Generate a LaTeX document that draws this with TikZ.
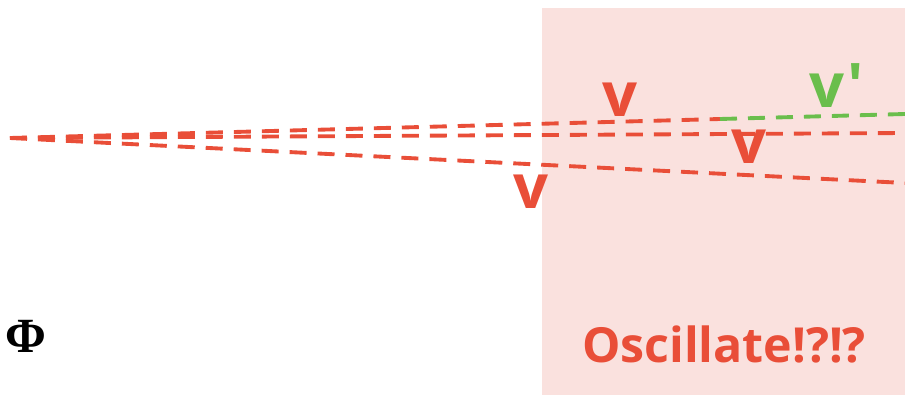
\documentclass[tikz,border=0pt]{standalone}
\usepackage{amsmath, amssymb}
\usepackage{fontspec}
\setsansfont{Open Sans}
\newfontfamily\primefont[Ligatures=TeXOff]{Open Sans}
\newfontfamily\phifont{Liberation Serif}
\usetikzlibrary{positioning}
\definecolor{vred}{RGB}{233,78,56}
\definecolor{vgreen}{RGB}{106,190,76}
\definecolor{zonepink}{RGB}{250,225,222}

\begin{document}
\begin{tikzpicture}[
    x=0.02cm, y=-0.02cm,
    vline/.style={line width=2.2pt, dash pattern=on 0.34cm off 0.22cm},
    vlabel/.style={font=\sffamily\bfseries\fontsize{35}{36}\selectfont, text=vred, inner sep=0pt},
    every node/.style={inner sep=0pt}
]
\useasboundingbox (0,0) rectangle (905,395);
\fill[zonepink] (542,8) rectangle (905,395);
\coordinate (src) at (10,138);
\coordinate (split) at (720,119);
\coordinate (topend) at (905,114);
\coordinate (midend) at (905,133);
\coordinate (lowend) at (905,183);
\draw[vline, vred] (src) -- (split);
\draw[vline, vgreen] (split) -- (topend);
\draw[vline, vred] (src) -- (midend);
\draw[vline, vred] (src) -- (lowend);
\node[vlabel] (vtop) at (620,100) {v};
\node[vlabel] (vmid) at (749,147) {v};
\node[vlabel] (vlow) at (531,192) {v};
\node[vlabel, text=vgreen, anchor=base west] (vprime) at (809,108) {v\kern2pt{\primefont\bfseries '}};
\node[font=\phifont\bfseries\fontsize{28}{30}\selectfont] (phi) at (26,336) {Φ};
\node[font=\sffamily\bfseries\fontsize{27.5}{30}\selectfont, text=vred] (osc) at (724,344) {Oscillate!?!?};
\end{tikzpicture}
\end{document}
